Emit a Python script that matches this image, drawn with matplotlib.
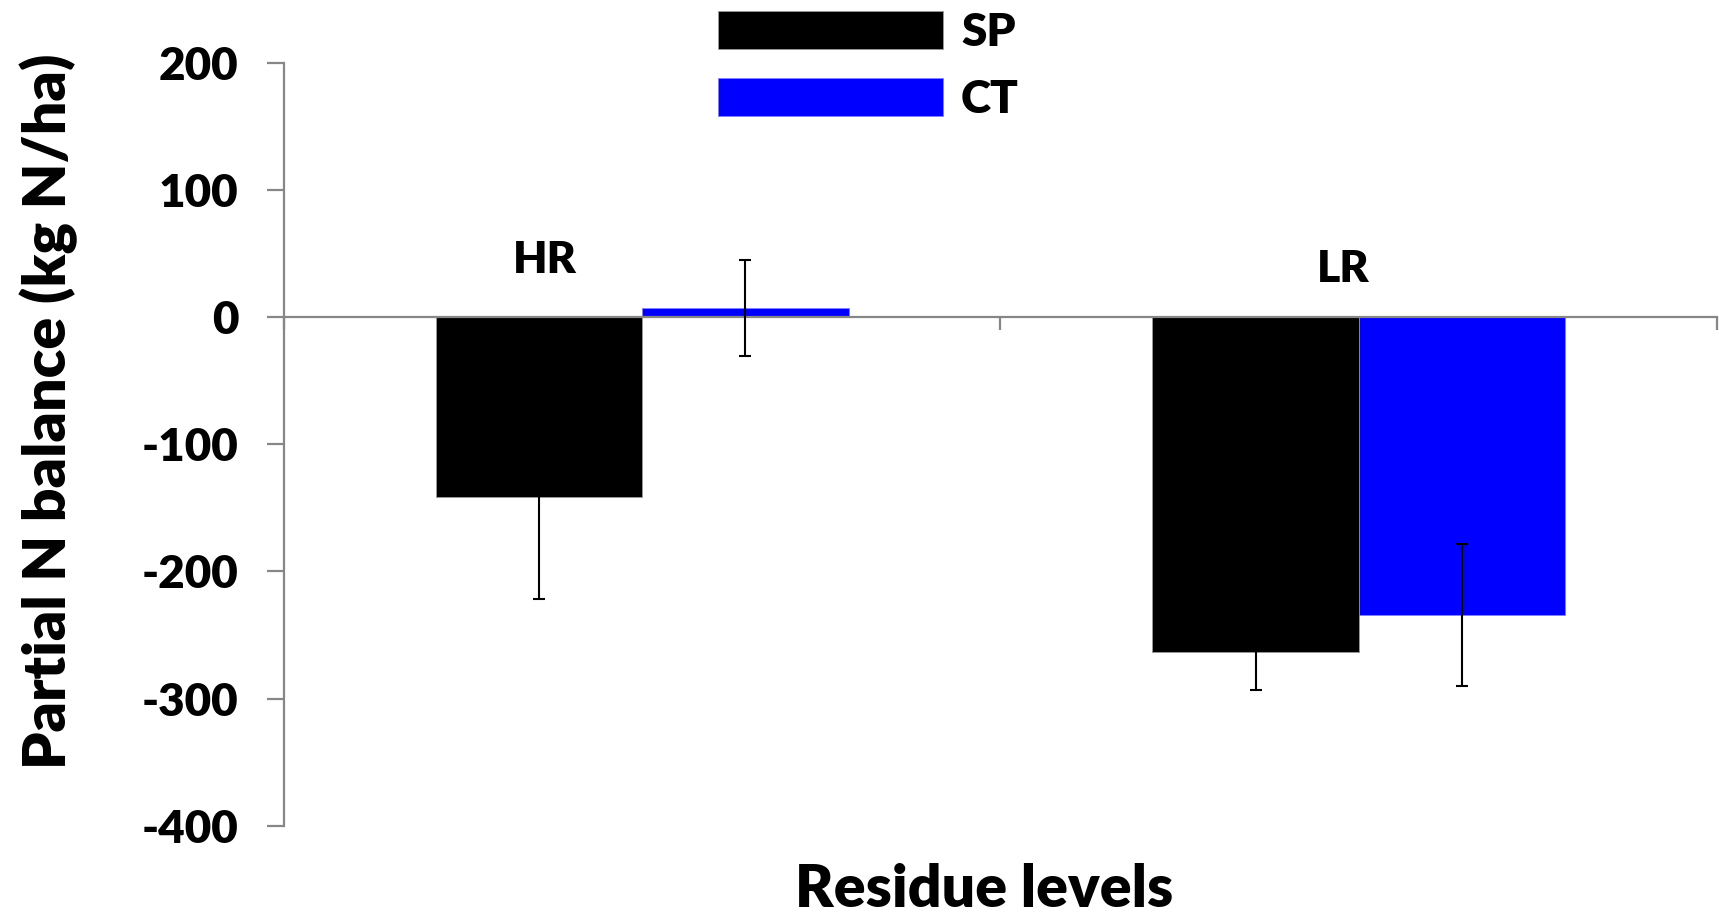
import matplotlib
matplotlib.use("Agg")
import matplotlib.pyplot as plt
import numpy as np

# residue levels and N balance per tillage system
categories = ["HR", "LR"]
series_names = ["SP", "CT"]
sp_values = [-141.5, -263.5]
sp_errors = [80, 29.5]
ct_values = [7, -234.5]
ct_errors = [38, 56]
y_ticks = [-400, -300, -200, -100, 0, 100, 200]

plt.rcParams['font.family'] = ['Lato', 'DejaVu Sans']
WEIGHT = 'heavy'

axis_grey = '#878787'
fig = plt.figure(figsize=(17.19, 9.15), dpi=100)
ax = fig.add_axes([0.1652, 0.0976, 0.8336, 0.8339])

x = np.arange(len(categories))
width = 0.288
err_style = dict(ecolor='black', elinewidth=1.5, capsize=4.5, capthick=1.5)

ax.bar(x - width / 2, sp_values, width, color='black', edgecolor='#9a9a9a',
       linewidth=0.6, label=series_names[0], zorder=2)
ax.bar(x + width / 2, ct_values, width, color='#0000ff', edgecolor='#8080ff',
       linewidth=0.6, label=series_names[1], zorder=2)
ax.errorbar(x - width / 2, sp_values, yerr=sp_errors, fmt='none', zorder=3, **err_style)
ax.errorbar(x + width / 2, ct_values, yerr=ct_errors, fmt='none', zorder=3, **err_style)

ax.set_xlim(-0.5, 1.5)
ax.set_ylim(-400, 200)
ax.set_yticks(y_ticks)
ax.set_yticklabels([str(v) for v in y_ticks])

# category names sit above the groups instead of on the axis
ax.text(-0.136, 44.6, categories[0], ha='center', va='center', fontsize=32, fontweight=WEIGHT)
ax.text(0.979, 37.8, categories[1], ha='center', va='center', fontsize=32, fontweight=WEIGHT)

for side in ['top', 'right']:
    ax.spines[side].set_visible(False)
ax.spines['left'].set_color(axis_grey)
ax.spines['left'].set_linewidth(1.6)
ax.spines['bottom'].set_position(('data', 0))
ax.spines['bottom'].set_color(axis_grey)
ax.spines['bottom'].set_linewidth(1.6)

ax.set_xticks([-0.5, 0.5, 1.5])
ax.set_xticklabels([])
ax.tick_params(axis='x', direction='out', length=9, width=1.6, color=axis_grey)
ax.tick_params(axis='y', direction='out', length=12, width=1.6, color=axis_grey,
               labelsize=33, pad=21)
for lab in ax.get_yticklabels():
    lab.set_fontweight(WEIGHT)

ax.set_ylabel('Partial N balance (kg N/ha)', fontsize=42.5, fontweight=WEIGHT)
ax.yaxis.set_label_coords(-0.164, 0.5435)
ax.yaxis.label.set_va('center')
ax.set_xlabel('Residue levels', fontsize=42.5, fontweight=WEIGHT)
ax.xaxis.set_label_coords(0.4885, -0.084)
ax.xaxis.label.set_va('center')

leg = ax.legend(loc='upper left', bbox_to_anchor=(0.303, 1.068), frameon=False,
                prop={'size': 33, 'weight': WEIGHT}, handlelength=4.9,
                handleheight=0.9, handletextpad=0.4, labelspacing=0.55,
                borderaxespad=0, borderpad=0)

fig.savefig('out.png', dpi=100)
